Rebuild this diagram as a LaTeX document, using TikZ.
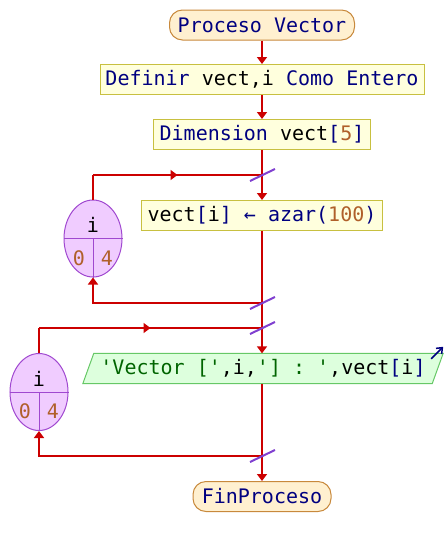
\documentclass[tikz,border=0pt]{standalone}
\usepackage{fontspec}
\setmonofont{DejaVu Sans Mono}
\usetikzlibrary{arrows.meta,shapes.geometric,calc,decorations.markings}

\definecolor{flowred}{HTML}{CC0000}
\definecolor{kwblue}{HTML}{000080}
\definecolor{numbrown}{HTML}{B0602A}
\definecolor{strgreen}{HTML}{006400}
\definecolor{termfill}{HTML}{FFF0D0}
\definecolor{termdraw}{HTML}{C8893C}
\definecolor{procfill}{HTML}{FFFFDD}
\definecolor{procdraw}{HTML}{C8C040}
\definecolor{loopfill}{HTML}{F0CCFF}
\definecolor{loopdraw}{HTML}{A048D0}
\definecolor{outfill}{HTML}{DDFFDD}
\definecolor{outdraw}{HTML}{66C866}
\definecolor{slashpurple}{HTML}{8040D0}

\newcommand{\kw}[1]{\textcolor{kwblue}{#1}}
\newcommand{\nm}[1]{\textcolor{numbrown}{#1}}
\newcommand{\lit}[1]{\textcolor{strgreen}{#1}}

\tikzset{
  txt/.style={font=\ttfamily\fontsize{20}{24}\selectfont, inner sep=0pt},
  term/.style={txt, draw=termdraw, fill=termfill, line width=1pt,
    rounded corners=13pt, minimum height=30pt},
  proc/.style={txt, draw=procdraw, fill=procfill, line width=1pt,
    minimum height=30pt},
  loopell/.style={ellipse, draw=loopdraw, fill=loopfill, line width=1pt,
    minimum width=58pt, minimum height=77pt, inner sep=0pt},
  divider/.style={draw=loopdraw, line width=1pt},
  line/.style={draw=flowred, line width=2pt},
  flow/.style={line, -{Triangle[width=10pt,length=7pt]}},
  midtip/.style={line, postaction={decorate}, decoration={markings,
    mark=at position 0.5 with {\arrow[flowred]{Triangle[width=10pt,length=7pt]}}}},
  slash/.style={draw=slashpurple, line width=2pt},
  outarrow/.style={draw=kwblue, line width=1.5pt, -{Straight Barb[width=8pt,length=5pt]}},
}

\begin{document}
\begin{tikzpicture}[x=1pt,y=-1pt]
\useasboundingbox (0,0) rectangle (446,546);

% main column
\node[term, minimum width=185pt] (ini) at (262,25) {\kw{Proceso Vector}};
\node[proc, minimum width=324pt] (def) at (262,79.5) {\kw{Definir} vect,i \kw{Como Entero}};
\node[proc, minimum width=217pt] (dim) at (262,134.5) {\kw{Dimension} vect\kw{[}\nm{5}\kw{]}};
\coordinate (j1t) at (262,175);
\node[proc, minimum width=241pt] (asig) at (262,215.5) {vect\kw{[}i\kw{]} \kw{←} \kw{azar(}\nm{100}\kw{)}};
\coordinate (j1b) at (262,303);
\coordinate (j2t) at (262,328);
\node[txt, minimum width=360pt, minimum height=30pt] (out) at (263,368.5) {};
\coordinate (j2b) at (262,456);
\node[term, minimum width=138pt] (fin) at (262,496.5) {\kw{FinProceso}};

% output parallelogram
\draw[draw=outdraw, fill=outfill, line width=1pt]
  (out.south west) -- ([xshift=11pt]out.north west) -- (out.north east)
  -- ([xshift=-11pt]out.south east) -- cycle;
\node[txt] (outtxt) at (out.center) {\lit{'Vector ['},i,\lit{'] : '},vect\kw{[}i\kw{]}};
\coordinate (outtip) at ($(out.north east)+(0,-6.5)$);
\draw[outarrow] ($(out.north east)+(-12,5.5)$) -- (outtip);

% loop 1
\node[loopell] (e1) at (93,238.5) {};
\draw[divider] (e1.west) -- (e1.east) (e1.center) -- (e1.south);
\node[txt] (e1v) at (93,225) {i};
\node[txt] (e1a) at (79,258) {\nm{0}};
\node[txt] (e1b) at (107,258) {\nm{4}};
\coordinate (c1t) at (93,175);
\coordinate (c1b) at (93,303);

% loop 2
\node[loopell] (e2) at (39,392) {};
\draw[divider] (e2.west) -- (e2.east) (e2.center) -- (e2.south);
\node[txt] (e2v) at (39,379) {i};
\node[txt] (e2a) at (25,411) {\nm{0}};
\node[txt] (e2b) at (53,411) {\nm{4}};
\coordinate (c2t) at (39,328);
\coordinate (c2b) at (39,456);

% connectors
\draw[flow] (ini) -- (def);
\draw[flow] (def) -- (dim);
\draw[line] (dim) -- (j1t);
\draw[flow] (j1t) -- (asig);
\draw[line] (asig) -- (j1b) -- (j2t);
\draw[flow] (j2t) -- (j2t |- out.north);
\draw[line] (j2b |- out.south) -- (j2b);
\draw[flow] (j2b) -- (fin);

\draw[line] (e1) -- (c1t);
\draw[midtip] (c1t) -- (j1t);
\draw[flow] (j1b) -- (c1b) -- (e1);

\draw[line] (e2) -- (c2t);
\draw[midtip] (c2t) -- (j2t);
\draw[flow] (j2b) -- (c2b) -- (e2);

% loop markers on the main column
\foreach \j in {j1t,j1b,j2t,j2b}
  \draw[slash] ($(\j)+(-12,6)$) -- ($(\j)+(13,-6)$);
\end{tikzpicture}
\end{document}
